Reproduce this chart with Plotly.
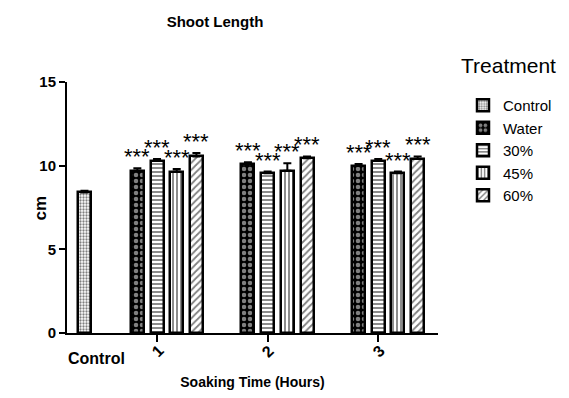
import plotly.graph_objects as go

# ---- data ----
treatments = ["Control", "Water", "30%", "45%", "60%"]
hours = ["1", "2", "3"]
hour_pos = [1, 2, 3]
control_value = [8.4]
control_err = [0.1]
water = [9.7, 10.1, 10.0]
water_err = [0.15, 0.1, 0.1]
p30 = [10.3, 9.55, 10.3]
p30_err = [0.1, 0.1, 0.1]
p45 = [9.65, 9.7, 9.55]
p45_err = [0.15, 0.45, 0.1]
p60 = [10.55, 10.45, 10.4]
p60_err = [0.2, 0.1, 0.15]
significance = ["***", "***", "***"]
y_ticks = [0, 5, 10, 15]

FONT = "Arial, Liberation Sans, sans-serif"
slot = 0.178
bw = 0.118
control_x = 0.344

# page body adds an 8px offset, so the figure is 8px smaller
W, H = 561, 390
PL, PR, PT, PB = 59, 430, 74, 325   # plot area in figure pixels

patterns = {
    "Control": dict(shape=".", size=3, solidity=0.45, fgcolor="black", bgcolor="white"),
    "Water": dict(shape=".", size=6, solidity=0.45, fgcolor="white", bgcolor="black"),
    "30%": dict(shape="-", size=4, solidity=0.45, fgcolor="black", bgcolor="white"),
    "45%": dict(shape="|", size=4, solidity=0.45, fgcolor="black", bgcolor="white"),
    "60%": dict(shape="/", size=5, solidity=0.35, fgcolor="black", bgcolor="white"),
}

fig = go.Figure()

def add_bar(name, xs, ys, errs):
    fig.add_trace(go.Bar(
        name=name, x=xs, y=ys, width=bw,
        marker=dict(color="white", pattern=patterns[name],
                    line=dict(color="black", width=2.5)),
        error_y=dict(type="data", array=errs, arrayminus=[0] * len(errs),
                     symmetric=False, color="black", thickness=2, width=4),
    ))

add_bar("Control", [control_x], control_value, control_err)
series = [("Water", water, water_err, -1), ("30%", p30, p30_err, 0),
          ("45%", p45, p45_err, 1), ("60%", p60, p60_err, 2)]
for name, vals, errs, k in series:
    xs = [h + k * slot for h in hour_pos]
    add_bar(name, xs, vals, errs)
    for x, v, e in zip(xs, vals, errs):
        fig.add_annotation(x=x, y=v + e, text=significance[0], showarrow=False,
                           yanchor="bottom", yshift=-3,
                           font=dict(family=FONT, size=22, color="black"))

# x tick labels
fig.add_annotation(x=control_x + 0.6 * slot, y=0, yref="y", text="<b>Control</b>",
                   showarrow=False, yanchor="top", yshift=-15,
                   font=dict(family=FONT, size=16, color="black"))
for h, p in zip(hours, hour_pos):
    fig.add_annotation(x=p, y=0, yref="y", text="<b>" + h + "</b>", showarrow=False,
                       yanchor="top", yshift=-6, textangle=-45,
                       font=dict(family=FONT, size=16, color="black"))

# y axis title
fig.add_annotation(xref="paper", yref="paper", x=(32 - PL) / (PR - PL), y=0.5,
                   text="<b>cm</b>", showarrow=False, textangle=-90,
                   xanchor="center", yanchor="middle",
                   font=dict(family=FONT, size=17, color="black"))

# legend heading
fig.add_annotation(xref="paper", yref="paper", x=(451 - PL) / (PR - PL),
                   y=(PB - 57) / (PB - PT), text="Treatment", showarrow=False,
                   xanchor="left", yanchor="middle",
                   font=dict(family=FONT, size=21, color="black"))

fig.update_layout(
    width=W, height=H,
    margin=dict(l=PL, r=W - PR, t=PT, b=H - PB, autoexpand=False),
    paper_bgcolor="white", plot_bgcolor="white",
    barmode="overlay", bargap=0,
    showlegend=True,
    title=dict(text="<b>Shoot Length</b>", x=207 / W, xanchor="center",
               y=1 - 14 / H, yanchor="middle",
               font=dict(family=FONT, size=15, color="black")),
    legend=dict(font=dict(family=FONT, size=15, color="black"),
                x=(455 - PL) / (PR - PL), xanchor="left",
                y=(PB - 81) / (PB - PT), yanchor="top",
                itemwidth=30,
                bgcolor="rgba(0,0,0,0)"),
    xaxis=dict(range=[0.186, 3.54], tickvals=hour_pos, ticktext=["", "", ""],
               ticks="outside", ticklen=7, tickwidth=2, tickcolor="black",
               showline=True, linecolor="black", linewidth=2,
               showgrid=False, zeroline=False, automargin=False,
               title=dict(text="<b>Soaking Time (Hours)</b>", standoff=34,
                          font=dict(family=FONT, size=14, color="black"))),
    yaxis=dict(range=[0, 15], tickvals=y_ticks,
               ticks="outside", ticklen=6, tickwidth=2, tickcolor="black",
               showline=True, linecolor="black", linewidth=2,
               showgrid=False, zeroline=False, automargin=False,
               tickfont=dict(family=FONT, size=15, color="black", weight="bold")),
)

fig.write_html("out.html")
